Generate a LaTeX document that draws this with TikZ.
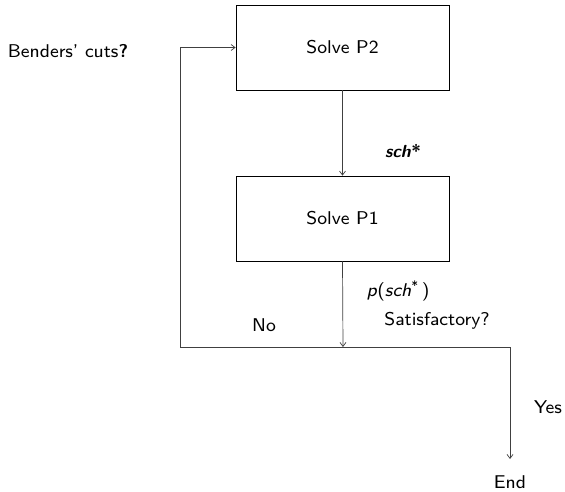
\documentclass[tikz,border=0pt]{standalone}
\usetikzlibrary{arrows.meta}
% Latin Modern Sans at its 8pt design size, scaled freely
\DeclareFontFamily{TU}{lmsx}{}
\DeclareFontShape{TU}{lmsx}{m}{n}{<-> "[lmsans8-regular]:mapping=tex-text"}{}
\DeclareFontShape{TU}{lmsx}{m}{it}{<-> "[lmsans8-oblique]:mapping=tex-text"}{}
\DeclareFontShape{TU}{lmsx}{b}{n}{<-> "[lmsans10-bold]:mapping=tex-text"}{}
\DeclareFontShape{TU}{lmsx}{b}{it}{<-> "[lmsans10-boldoblique]:mapping=tex-text"}{}
\DeclareFontShape{TU}{lmsx}{bx}{n}{<->ssub * lmsx/b/n}{}
\DeclareFontShape{TU}{lmsx}{bx}{it}{<->ssub * lmsx/b/it}{}
\begin{document}
\begin{tikzpicture}[x=1pt,y=-1pt,
  every node/.style={font=\fontfamily{lmsx}\fontsize{18.5}{22}\selectfont},
  stepbox/.style={draw, line width=0.7pt, minimum width=213pt, minimum height=85pt, inner sep=0pt},
  flow/.style={draw=black!75, line width=0.7pt},
  arr/.style={flow, -{Straight Barb[length=4pt,width=6pt]}},
  lbl/.style={inner sep=0pt}]
\useasboundingbox (0,0) rectangle (565,492);
% processing steps
\node[stepbox] (p2) at (342.5,47.5) {Solve P2};
\node[stepbox] (p1) at (342.5,218.5) {Solve P1};
% junction line and its end points
\coordinate (j) at (343,347);
\coordinate (jl) at (180,347);
\coordinate (jr) at (510,347);
\coordinate (endtip) at (510,459);
% connectors
\draw[arr] (p2.south) -- (p1.north);
\draw[arr] (p1.south) -- (j);
\draw[flow] (jl) -- (jr);
\draw[arr] (jl) |- (p2.west);
\draw[arr] (jr) -- (endtip);
% labels
\node[lbl] (cuts) at (68,51) {Benders' cuts\textbf{?}};
\node[lbl, font=\fontfamily{lmsx}\fontsize{17.5}{21}\selectfont] (sch) at (403,151) {\textbf{\textit{sch}*}};
\node[lbl] (psch) at (398,291) {\textit{p}(\textit{sch}\textsuperscript{*}\,)};
\node[lbl] (sat) at (437,321) {Satisfactory?};
\node[lbl] (no) at (264,325) {No};
\node[lbl] (yes) at (548,407) {Yes};
\node[lbl] (end) at (510,482) {End};
\end{tikzpicture}
\end{document}
